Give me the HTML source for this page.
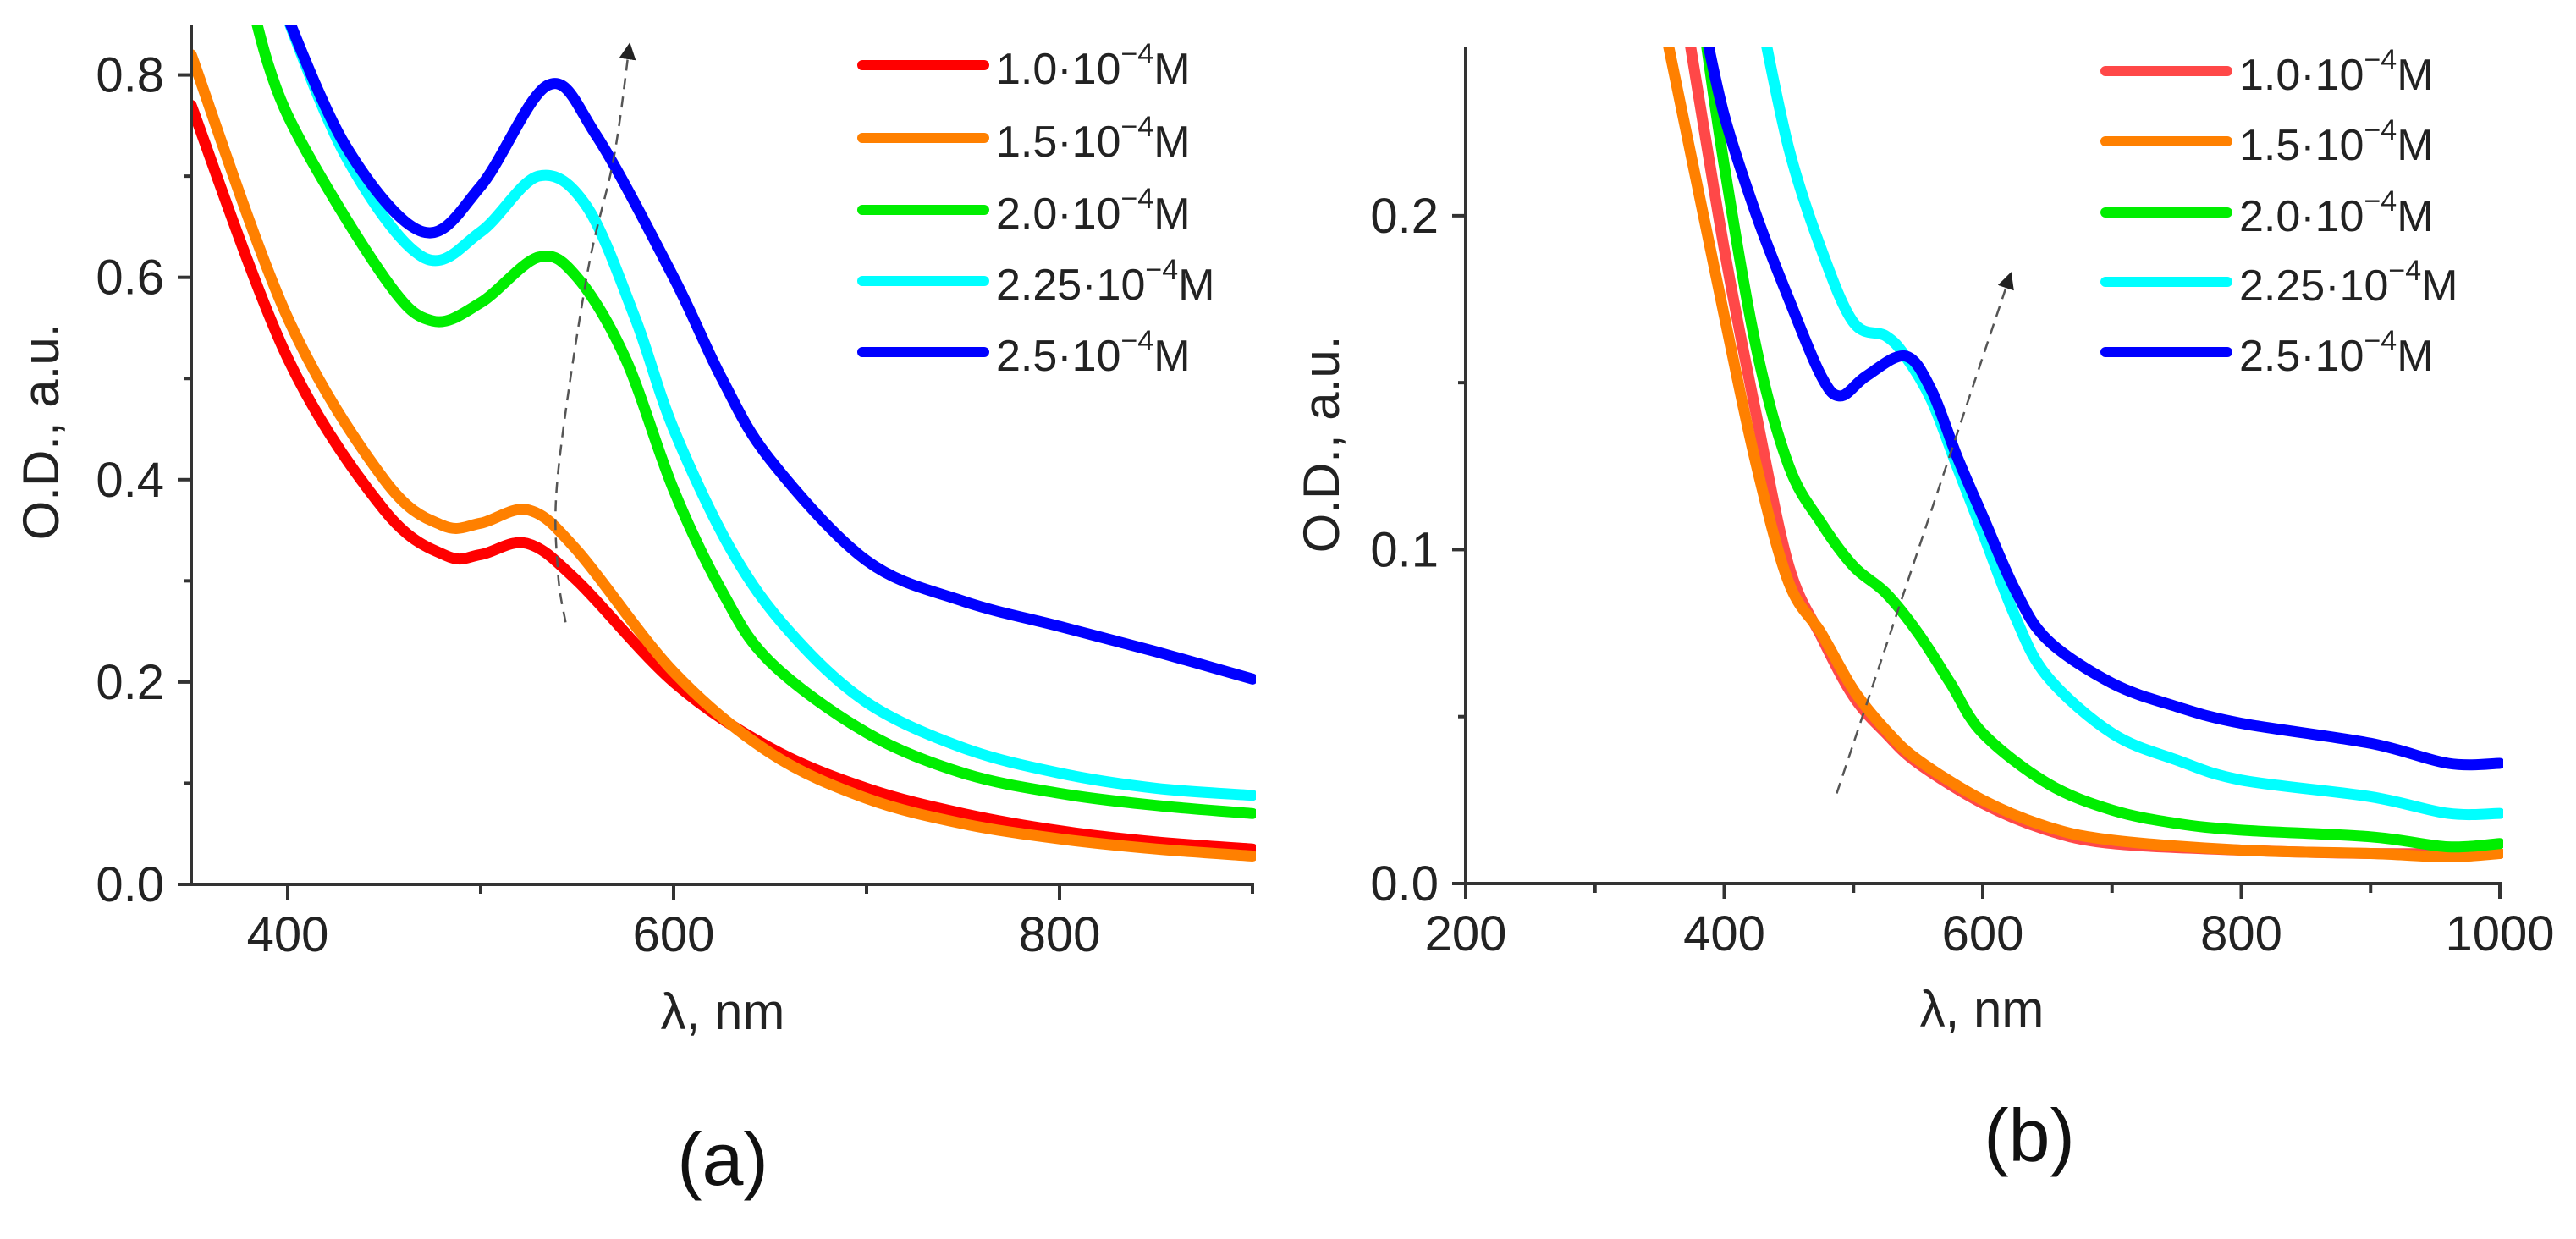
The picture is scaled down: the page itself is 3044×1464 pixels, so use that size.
<!DOCTYPE html>
<html><head><meta charset="utf-8"><style>
html,body{margin:0;padding:0;background:#fff;}
svg{display:block;font-family:"Liberation Sans",Arial,sans-serif;}
</style></head><body>
<svg id="chart" width="3044" height="1464" viewBox="0 0 3044 1464" xmlns="http://www.w3.org/2000/svg">
<defs>
<clipPath id="clipA"><rect x="228" y="30" width="1256" height="1016"/></clipPath>
<clipPath id="clipB"><rect x="1732" y="56" width="1226" height="990"/></clipPath>
<marker id="arrowhead" markerWidth="8" markerHeight="8" refX="6" refY="4" orient="auto" markerUnits="strokeWidth"><path d="M0,0 L8,4 L0,8 z" fill="#222"/></marker>
</defs>
<g id="panelA"></g>
<g id="panelB"></g>
</svg>
<script>
const NS='http://www.w3.org/2000/svg';
const seriesLabels=['1.0','1.5','2.0','2.25','2.5'];
const seriesColors=['#ff0000','#ff8000','#00ee00','#00ffff','#0000ff'];
const seriesColorsB=['#ff4848','#ff8000','#00ee00','#00ffff','#0000ff'];

// Panel (a) data: [wavelength nm, O.D.]
const a_red=[[350,0.77],[400,0.52],[450,0.37],[482,0.325],[500,0.326],[524,0.337],[550,0.30],[600,0.20],[650,0.135],[700,0.095],[750,0.07],[800,0.053],[850,0.042],[900,0.035]];
const a_orange=[[350,0.82],[400,0.56],[450,0.40],[480,0.355],[500,0.357],[525,0.37],[550,0.33],[600,0.21],[650,0.13],[700,0.085],[750,0.06],[800,0.045],[850,0.035],[900,0.028]];
const a_green=[[380,0.88],[400,0.76],[450,0.60],[475,0.557],[500,0.575],[530,0.62],[550,0.60],[575,0.52],[600,0.39],[625,0.29],[650,0.22],[700,0.15],[750,0.11],[800,0.09],[850,0.078],[900,0.07]];
const a_cyan=[[395,0.88],[430,0.72],[470,0.62],[500,0.645],[530,0.70],[555,0.67],[580,0.56],[600,0.45],[630,0.33],[660,0.25],[700,0.18],[750,0.135],[800,0.11],[850,0.095],[900,0.088]];
const a_blue=[[395,0.88],[430,0.73],[470,0.645],[500,0.69],[535,0.79],[560,0.74],[600,0.60],[625,0.50],[650,0.42],[700,0.32],[750,0.28],[800,0.255],[850,0.23],[900,0.203]];
const a_arrow=[[544,0.259],[540,0.31],[540,0.405],[555,0.601],[569,0.718],[577,0.828]];
const a_xticks=[400,600,800];
const a_xminor=[500,700,900];
const a_yticks=['0.0','0.2','0.4','0.6','0.8'];
const a_yminor=[0.1,0.3,0.5,0.7];

// Panel (b) data
const b_red=[[370,0.26],[400,0.19],[425,0.14],[450,0.095],[475,0.074],[500,0.056],[525,0.045],[550,0.036],[600,0.024],[650,0.016],[700,0.012],[800,0.010],[900,0.009],[1000,0.009]];
const b_orange=[[352,0.26],[400,0.17],[425,0.125],[450,0.09],[475,0.075],[500,0.058],[525,0.046],[550,0.037],[600,0.025],[650,0.017],[700,0.013],[800,0.010],[900,0.009],[960,0.008],[1000,0.009]];
const b_green=[[383,0.26],[400,0.215],[425,0.16],[450,0.125],[475,0.108],[500,0.095],[525,0.087],[550,0.075],[575,0.06],[600,0.045],[650,0.03],[700,0.022],[750,0.018],[800,0.016],[900,0.014],[960,0.011],[1000,0.012]];
const b_cyan=[[428,0.26],[450,0.22],[475,0.19],[500,0.168],[525,0.164],[540,0.158],[560,0.145],[580,0.125],[600,0.105],[625,0.08],[650,0.062],[700,0.045],[750,0.037],[800,0.031],[900,0.026],[960,0.021],[1000,0.021]];
const b_blue=[[383,0.26],[400,0.23],[425,0.2],[450,0.175],[475,0.152],[490,0.146],[510,0.152],[540,0.158],[560,0.148],[580,0.128],[600,0.11],[625,0.088],[650,0.073],[700,0.06],[750,0.053],[800,0.048],[900,0.042],[960,0.036],[1000,0.036]];
const b_arrow=[[487,0.027],[621,0.182]];
const b_xticks=[200,400,600,800,1000];
const b_xminor=[300,500,700,900];
const b_yticks=['0.0','0.1','0.2'];
const b_yminor=[0.05,0.15];

function mk(tag,attrs,parent){const e=document.createElementNS(NS,tag);for(const k in attrs)e.setAttribute(k,attrs[k]);parent.appendChild(e);return e;}
function smooth(pts){let d='M'+pts[0][0]+','+pts[0][1];for(let i=0;i<pts.length-1;i++){const p0=pts[i-1]||pts[i],p1=pts[i],p2=pts[i+1],p3=pts[i+2]||p2;
const c1x=p1[0]+(p2[0]-p0[0])/6,c1y=p1[1]+(p2[1]-p0[1])/6,c2x=p2[0]-(p3[0]-p1[0])/6,c2y=p2[1]-(p3[1]-p1[1])/6;
d+=' C'+c1x.toFixed(1)+','+c1y.toFixed(1)+' '+c2x.toFixed(1)+','+c2y.toFixed(1)+' '+p2[0].toFixed(1)+','+p2[1].toFixed(1);}return d;}

function panel(g,cfg){
  const X=v=>cfg.x0+(v-cfg.xmin)/(cfg.xmax-cfg.xmin)*(cfg.x1-cfg.x0);
  const Y=v=>cfg.y0-(v-cfg.ymin)/(cfg.ymax-cfg.ymin)*(cfg.y0-cfg.y1);
  const curves=mk('g',{'clip-path':'url(#'+cfg.clip+')'},g);
  
  
  cfg.series.forEach((s,i)=>{
    const p=mk('path',{d:smooth(s.map(q=>[X(q[0]),Y(q[1])])),fill:'none',stroke:cfg.colors[i],'stroke-width':13,'stroke-linejoin':'round','stroke-linecap':'round'},curves);
    
    
  });
  const arr=mk('path',{d:smooth(cfg.arrow.map(q=>[X(q[0]),Y(q[1])])),fill:'none',stroke:'#555','stroke-width':2.5,'stroke-dasharray':'13,9','marker-end':'url(#arrowhead)'},g);
  
  
  const ax=mk('g',{stroke:'#333','stroke-width':4,fill:'none'},g);
  
  
  mk('line',{x1:cfg.x0,y1:cfg.y1,x2:cfg.x0,y2:cfg.y0+2},ax);
  mk('line',{x1:cfg.x0-2,y1:cfg.y0,x2:cfg.x1+2,y2:cfg.y0},ax);
  cfg.xticks.forEach(t=>{mk('line',{x1:X(t),y1:cfg.y0,x2:X(t),y2:cfg.y0+18},ax);
    const tx=mk('text',{x:X(t),y:cfg.y0+79,'text-anchor':'middle','font-size':58,fill:'#222',stroke:'none'},g);tx.textContent=t;
    
    });
  cfg.xminor.forEach(t=>mk('line',{x1:X(t),y1:cfg.y0,x2:X(t),y2:cfg.y0+11},ax));
  cfg.yticks.forEach(t=>{const v=parseFloat(t);mk('line',{x1:cfg.x0,y1:Y(v),x2:cfg.x0-16,y2:Y(v)},ax);
    const ty=mk('text',{x:cfg.x0-32,y:Y(v)+20,'text-anchor':'end','font-size':58,fill:'#222',stroke:'none'},g);ty.textContent=t;
    
    });
  cfg.yminor.forEach(v=>mk('line',{x1:cfg.x0,y1:Y(v),x2:cfg.x0-9,y2:Y(v)},ax));
  const xt=mk('text',{x:cfg.xtitle[0],y:cfg.xtitle[1]+21,'text-anchor':'middle','font-size':60,fill:'#222'},g);xt.textContent='λ, nm';
  
  
  const yt=mk('text',{x:0,y:0,'text-anchor':'middle','font-size':60,fill:'#222',transform:'translate('+(cfg.ytitle[0]+21)+','+cfg.ytitle[1]+') rotate(-90)'},g);yt.textContent='O.D., a.u.';
  
  
  const pl=mk('text',{x:cfg.plabel[0],y:cfg.plabel[1]+30,'text-anchor':'middle','font-size':88,fill:'#111'},g);pl.textContent=cfg.ptext;
  
  
  const lg=mk('g',{},g);
  
  
  cfg.legendY.forEach((ly,i)=>{
    const e=mk('g',{},lg);
    
    
    mk('line',{x1:cfg.legendX[0],y1:ly,x2:cfg.legendX[1],y2:ly,stroke:cfg.colors[i],'stroke-width':12,'stroke-linecap':'round'},e);
    const t=mk('text',{x:cfg.legendX[1]+14,y:ly+22,'font-size':52,fill:'#222'},e);
    t.appendChild(document.createTextNode(seriesLabels[i]+'·10'));
    const sup=mk('tspan',{'font-size':34,dy:-24},t);sup.textContent='−4';
    const m=mk('tspan',{dy:24},t);m.textContent='M';
  });
}
panel(document.getElementById('panelA'),{x0:226,x1:1480,y0:1045,y1:30,xmin:350,xmax:900,ymin:0,ymax:0.849,clip:'clipA',
  series:[a_red,a_orange,a_green,a_cyan,a_blue],colors:seriesColors,arrow:a_arrow,xticks:a_xticks,xminor:a_xminor,yticks:a_yticks,yminor:a_yminor,
  xtitle:[854,1195],ytitle:[48,510],plabel:[854,1370],ptext:'(a)',legendX:[1019,1163],legendY:[77,163,248,332,416]});
panel(document.getElementById('panelB'),{x0:1732,x1:2954,y0:1044,y1:56,xmin:200,xmax:1000,ymin:0,ymax:0.2504,clip:'clipB',
  series:[b_red,b_orange,b_green,b_cyan,b_blue],colors:seriesColorsB,arrow:b_arrow,xticks:b_xticks,xminor:b_xminor,yticks:b_yticks,yminor:b_yminor,
  xtitle:[2342,1192],ytitle:[1561,525],plabel:[2398,1342],ptext:'(b)',legendX:[2488,2632],legendY:[84,167,251,333,416]});
</script>
</body></html>
